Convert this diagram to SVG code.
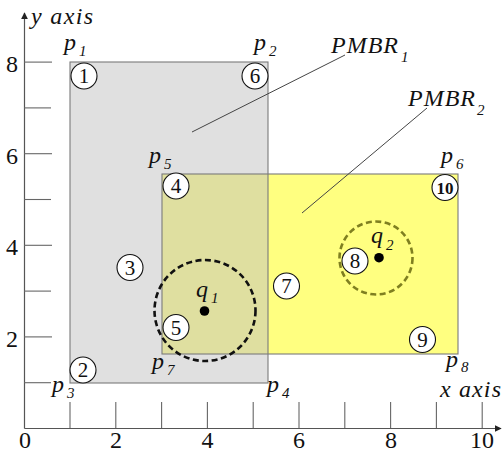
<svg xmlns="http://www.w3.org/2000/svg" width="503" height="453" viewBox="0 0 503 453" font-family="Liberation Serif, Times New Roman, serif">
<defs>
<style>
.ax{stroke:#555;stroke-width:1.2;fill:none}
.tk{stroke:#666;stroke-width:1.1}
.num{font-size:24px;fill:#111;text-anchor:middle}
.lb{font-style:italic;font-size:24px;fill:#111}
.sb{font-style:italic;font-size:15px;fill:#111}
.cn circle{fill:#fff;stroke:#111;stroke-width:1.1}
.cn text{font-size:21px;fill:#111;text-anchor:middle}
.ld{stroke:#444;stroke-width:1}
</style>
<marker id="ah" viewBox="0 0 10 10" refX="9" refY="5" markerWidth="7" markerHeight="7" markerUnits="userSpaceOnUse" orient="auto"><path d="M0,0 L10,5 L0,10 z" fill="#222"/></marker>
</defs>
<rect width="503" height="453" fill="#fff"/>
<g id="axes">
<line class="ax" x1="24.5" y1="428.5" x2="24.5" y2="13" marker-end="url(#ah)"/>
<line class="ax" x1="24.5" y1="428.5" x2="501" y2="428.5" marker-end="url(#ah)"/>
<g class="tk">
<line x1="24" y1="382.7" x2="51" y2="382.7"/><line x1="24" y1="336.9" x2="52" y2="336.9"/>
<line x1="24" y1="291.1" x2="51" y2="291.1"/><line x1="24" y1="245.3" x2="52" y2="245.3"/>
<line x1="24" y1="199.5" x2="51" y2="199.5"/><line x1="24" y1="153.7" x2="52" y2="153.7"/>
<line x1="24" y1="107.9" x2="51" y2="107.9"/><line x1="24" y1="62.1" x2="52" y2="62.1"/>
<line x1="70" y1="402" x2="70" y2="428"/><line x1="115.8" y1="402" x2="115.8" y2="428"/>
<line x1="161.6" y1="402" x2="161.6" y2="428"/><line x1="207.4" y1="402" x2="207.4" y2="428"/>
<line x1="253.2" y1="402" x2="253.2" y2="428"/><line x1="299" y1="402" x2="299" y2="428"/>
<line x1="344.8" y1="402" x2="344.8" y2="428"/><line x1="390.6" y1="402" x2="390.6" y2="428"/>
<line x1="436.4" y1="402" x2="436.4" y2="428"/><line x1="482.2" y1="402" x2="482.2" y2="428"/>
</g>
<text class="num" x="12" y="72">8</text><text class="num" x="12" y="163.5">6</text>
<text class="num" x="12" y="255">4</text><text class="num" x="12" y="346.5">2</text>
<text class="num" x="25" y="448">0</text><text class="num" x="116" y="448">2</text>
<text class="num" x="207.5" y="448">4</text><text class="num" x="299" y="448">6</text>
<text class="num" x="391" y="448">8</text><text class="num" x="482" y="448">10</text>
<text class="lb" x="31" y="24" textLength="62">y axis</text>
<text class="lb" x="440" y="397" textLength="61">x axis</text>
</g>
<g id="pmbr1"><rect x="70" y="62" width="198" height="321" fill="#e0e0e0"/></g>
<g id="pmbr2"><rect x="162" y="174" width="296" height="180" fill="#ffff80"/>
<rect x="162" y="174" width="106" height="180" fill="#dfdfa0"/></g>
<g id="outlines" fill="none" stroke="#7a7a7a" stroke-width="1.1">
<rect x="70" y="62" width="198" height="321"/>
<rect x="162" y="174" width="296" height="180"/>
</g>
<g id="connectors">
<line class="ld" x1="192" y1="132" x2="345" y2="55"/>
<line class="ld" x1="302" y1="213" x2="427" y2="108"/>
</g>
<g id="q1">
<circle cx="205" cy="310.5" r="50.5" fill="none" stroke="#111" stroke-width="2.6" stroke-dasharray="6,3.5"/>
<circle cx="204.5" cy="311" r="4.8" fill="#000"/>
<text class="lb" x="196" y="297">q</text><text class="sb" x="211" y="303">1</text>
</g>
<g id="q2">
<circle cx="376" cy="258" r="36.5" fill="none" stroke="#7f7f20" stroke-width="2.6" stroke-dasharray="6,3.5"/>
<circle cx="379" cy="257.7" r="4.8" fill="#000"/>
<text class="lb" x="371" y="243">q</text><text class="sb" x="386" y="250">2</text>
</g>
<g class="cn">
<g id="n1"><circle cx="84" cy="76" r="13"/><text x="84" y="83">1</text></g>
<g id="n2"><circle cx="83" cy="370" r="13"/><text x="83" y="377">2</text></g>
<g id="n3"><circle cx="130" cy="267.5" r="13"/><text x="130" y="274.5">3</text></g>
<g id="n4"><circle cx="176" cy="186" r="13"/><text x="176" y="193">4</text></g>
<g id="n5"><circle cx="176" cy="327.5" r="13"/><text x="176" y="334.5">5</text></g>
<g id="n6"><circle cx="255" cy="76" r="13"/><text x="255" y="83">6</text></g>
<g id="n7"><circle cx="286.5" cy="286" r="13"/><text x="286.5" y="293">7</text></g>
<g id="n8"><circle cx="355" cy="261" r="13"/><text x="355" y="268">8</text></g>
<g id="n9"><circle cx="422.5" cy="339.5" r="13"/><text x="422.5" y="346.5">9</text></g>
<g id="n10"><circle cx="445" cy="187.5" r="13"/><text x="445" y="193.5" style="font-weight:bold;font-size:17px">10</text></g>
</g>
<g id="labels">
<text class="lb" x="64" y="50">p</text><text class="sb" x="79" y="56">1</text>
<text class="lb" x="254" y="50">p</text><text class="sb" x="269" y="56">2</text>
<text class="lb" x="52" y="392">p</text><text class="sb" x="67" y="398">3</text>
<text class="lb" x="267" y="392">p</text><text class="sb" x="282" y="398">4</text>
<text class="lb" x="149" y="163">p</text><text class="sb" x="164" y="169">5</text>
<text class="lb" x="441" y="163">p</text><text class="sb" x="456" y="169">6</text>
<text class="lb" x="152" y="369">p</text><text class="sb" x="167" y="375">7</text>
<text class="lb" x="446" y="367">p</text><text class="sb" x="461" y="372">8</text>
<text class="lb" x="331" y="53" textLength="67">PMBR</text><text class="sb" x="401" y="62">1</text>
<text class="lb" x="408" y="106" textLength="67">PMBR</text><text class="sb" x="477" y="115">2</text>
</g>
</svg>
